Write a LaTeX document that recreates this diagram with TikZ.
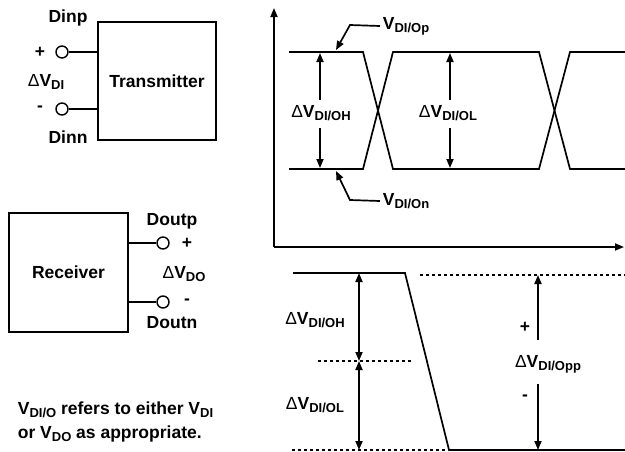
\documentclass[tikz,border=0pt]{standalone}
\usepackage{fontspec}
\setmainfont{Liberation Sans}
\usetikzlibrary{arrows.meta}
\newcommand\Vsub[1]{V\raisebox{-0.35ex}{\fontsize{13}{13}\selectfont #1}}
\newcommand\dlt{{\mdseries Δ}}
\begin{document}
\begin{tikzpicture}[x=1pt,y=-1pt,line width=1.7pt,
  font=\fontsize{17.5}{20}\selectfont\bfseries,
  >={Triangle[length=9pt,width=7pt]},
  every node/.style={inner sep=2pt},
  box/.style={draw,inner sep=0pt},
  term/.style={circle,draw,minimum size=12pt,inner sep=0pt,line width=1.4pt},
  dsh/.style={line width=1.4pt,dash pattern=on 3pt off 3pt},
  gap/.style={inner sep=5pt}]
\useasboundingbox (0,0) rectangle (625,451);
% Transmitter
\node[box,minimum width=118pt,minimum height=118pt] (tx) at (157,81) {Transmitter};
\node[term] (dinp) at (62,52) {};
\node[term] (dinn) at (62,109) {};
\draw (dinp) -- (dinp -| tx.west);
\draw (dinn) -- (dinn -| tx.west);
\node (ldinp) at (68,18) {Dinp};
\node (ldinn) at (68,137) {Dinn};
\node (lpl) at (40,52) {+};
\node (lmi) at (40,109) {-};
\node (ldvi) at (46,82) {\dlt\Vsub{DI}};
% Receiver
\node[box,minimum width=119pt,minimum height=119pt] (rx) at (68.5,272.5) {Receiver};
\node[term] (doutp) at (163,243) {};
\node[term] (doutn) at (163,302) {};
\draw (rx.east |- doutp) -- (doutp);
\draw (rx.east |- doutn) -- (doutn);
\node (ldoutp) at (172,221) {Doutp};
\node (ldoutn) at (172,323) {Doutn};
\node (lpl2) at (187,243) {+};
\node (lmi2) at (187,302) {-};
\node (ldvo) at (184,274) {\dlt\Vsub{DO}};
% note
\node[anchor=base west,inner sep=0pt] (n1) at (17,414) {\Vsub{DI/O} refers to either \Vsub{DI}};
\node[anchor=base west,inner sep=0pt] (n2) at (17,438) {or \Vsub{DO} as appropriate.};
% top plot axes
\coordinate (org) at (274,247);
\coordinate (ytop) at (274,8);
\coordinate (xend) at (624,247);
\draw[->] (org) -- (ytop);
\draw[->] (org) -- (xend);
% eye signals
\draw (289,52) -- (363,52) -- (393,169) -- (539,169) -- (570,52) -- (625,52);
\draw (289,169) -- (363,169) -- (393,52) -- (539,52) -- (570,169) -- (625,169);
% dims
\coordinate (ah1) at (320,53);
\coordinate (al1) at (320,168);
\node[gap] (dvoh) at (321,113) {\dlt\Vsub{DI/OH}};
\draw[->] (320,100) -- (ah1);
\draw[->] (320,128) -- (al1);
\coordinate (ah2) at (450,53);
\coordinate (al2) at (450,168);
\node[gap] (dvol) at (448,113) {\dlt\Vsub{DI/OL}};
\draw[->] (450,100) -- (ah2);
\draw[->] (450,128) -- (al2);
% leaders
\node[anchor=west] (vop) at (380,26) {\Vsub{DI/Op}};
\coordinate (kp) at (350,25);
\coordinate (tp) at (336,50);
\draw[->] (vop.west) -- (kp) -- (tp);
\node[anchor=west] (von) at (380,201) {\Vsub{DI/On}};
\coordinate (kn) at (350,200);
\coordinate (tn) at (336,171);
\draw[->] (von.west) -- (kn) -- (tn);
% bottom plot
\draw (293,273) -- (405,273) -- (449,450) -- (625,450);
\draw[dsh] (420,275) -- (625,275);
\draw[dsh] (318,361) -- (413,361);
\draw[dsh] (292,450) -- (448,450);
\coordinate (b1) at (359,273);
\coordinate (b2) at (359,361);
\coordinate (b3) at (359,450);
\draw[<->] (b1) -- (b2);
\draw[<->] (b2) -- (b3);
\node (bvoh) at (315,320) {\dlt\Vsub{DI/OH}};
\node (bvol) at (315,405) {\dlt\Vsub{DI/OL}};
\node (vpp) at (548,364) {\dlt\Vsub{DI/Opp}};
\coordinate (p1) at (538,340);
\coordinate (p2) at (538,275);
\coordinate (p3) at (538,384);
\coordinate (p4) at (538,450);
\draw[->] (p1) -- (p2);
\draw[->] (p3) -- (p4);
\node (ppl) at (525,327) {+};
\node (pmi) at (525,398) {-};
\end{tikzpicture}
\end{document}
